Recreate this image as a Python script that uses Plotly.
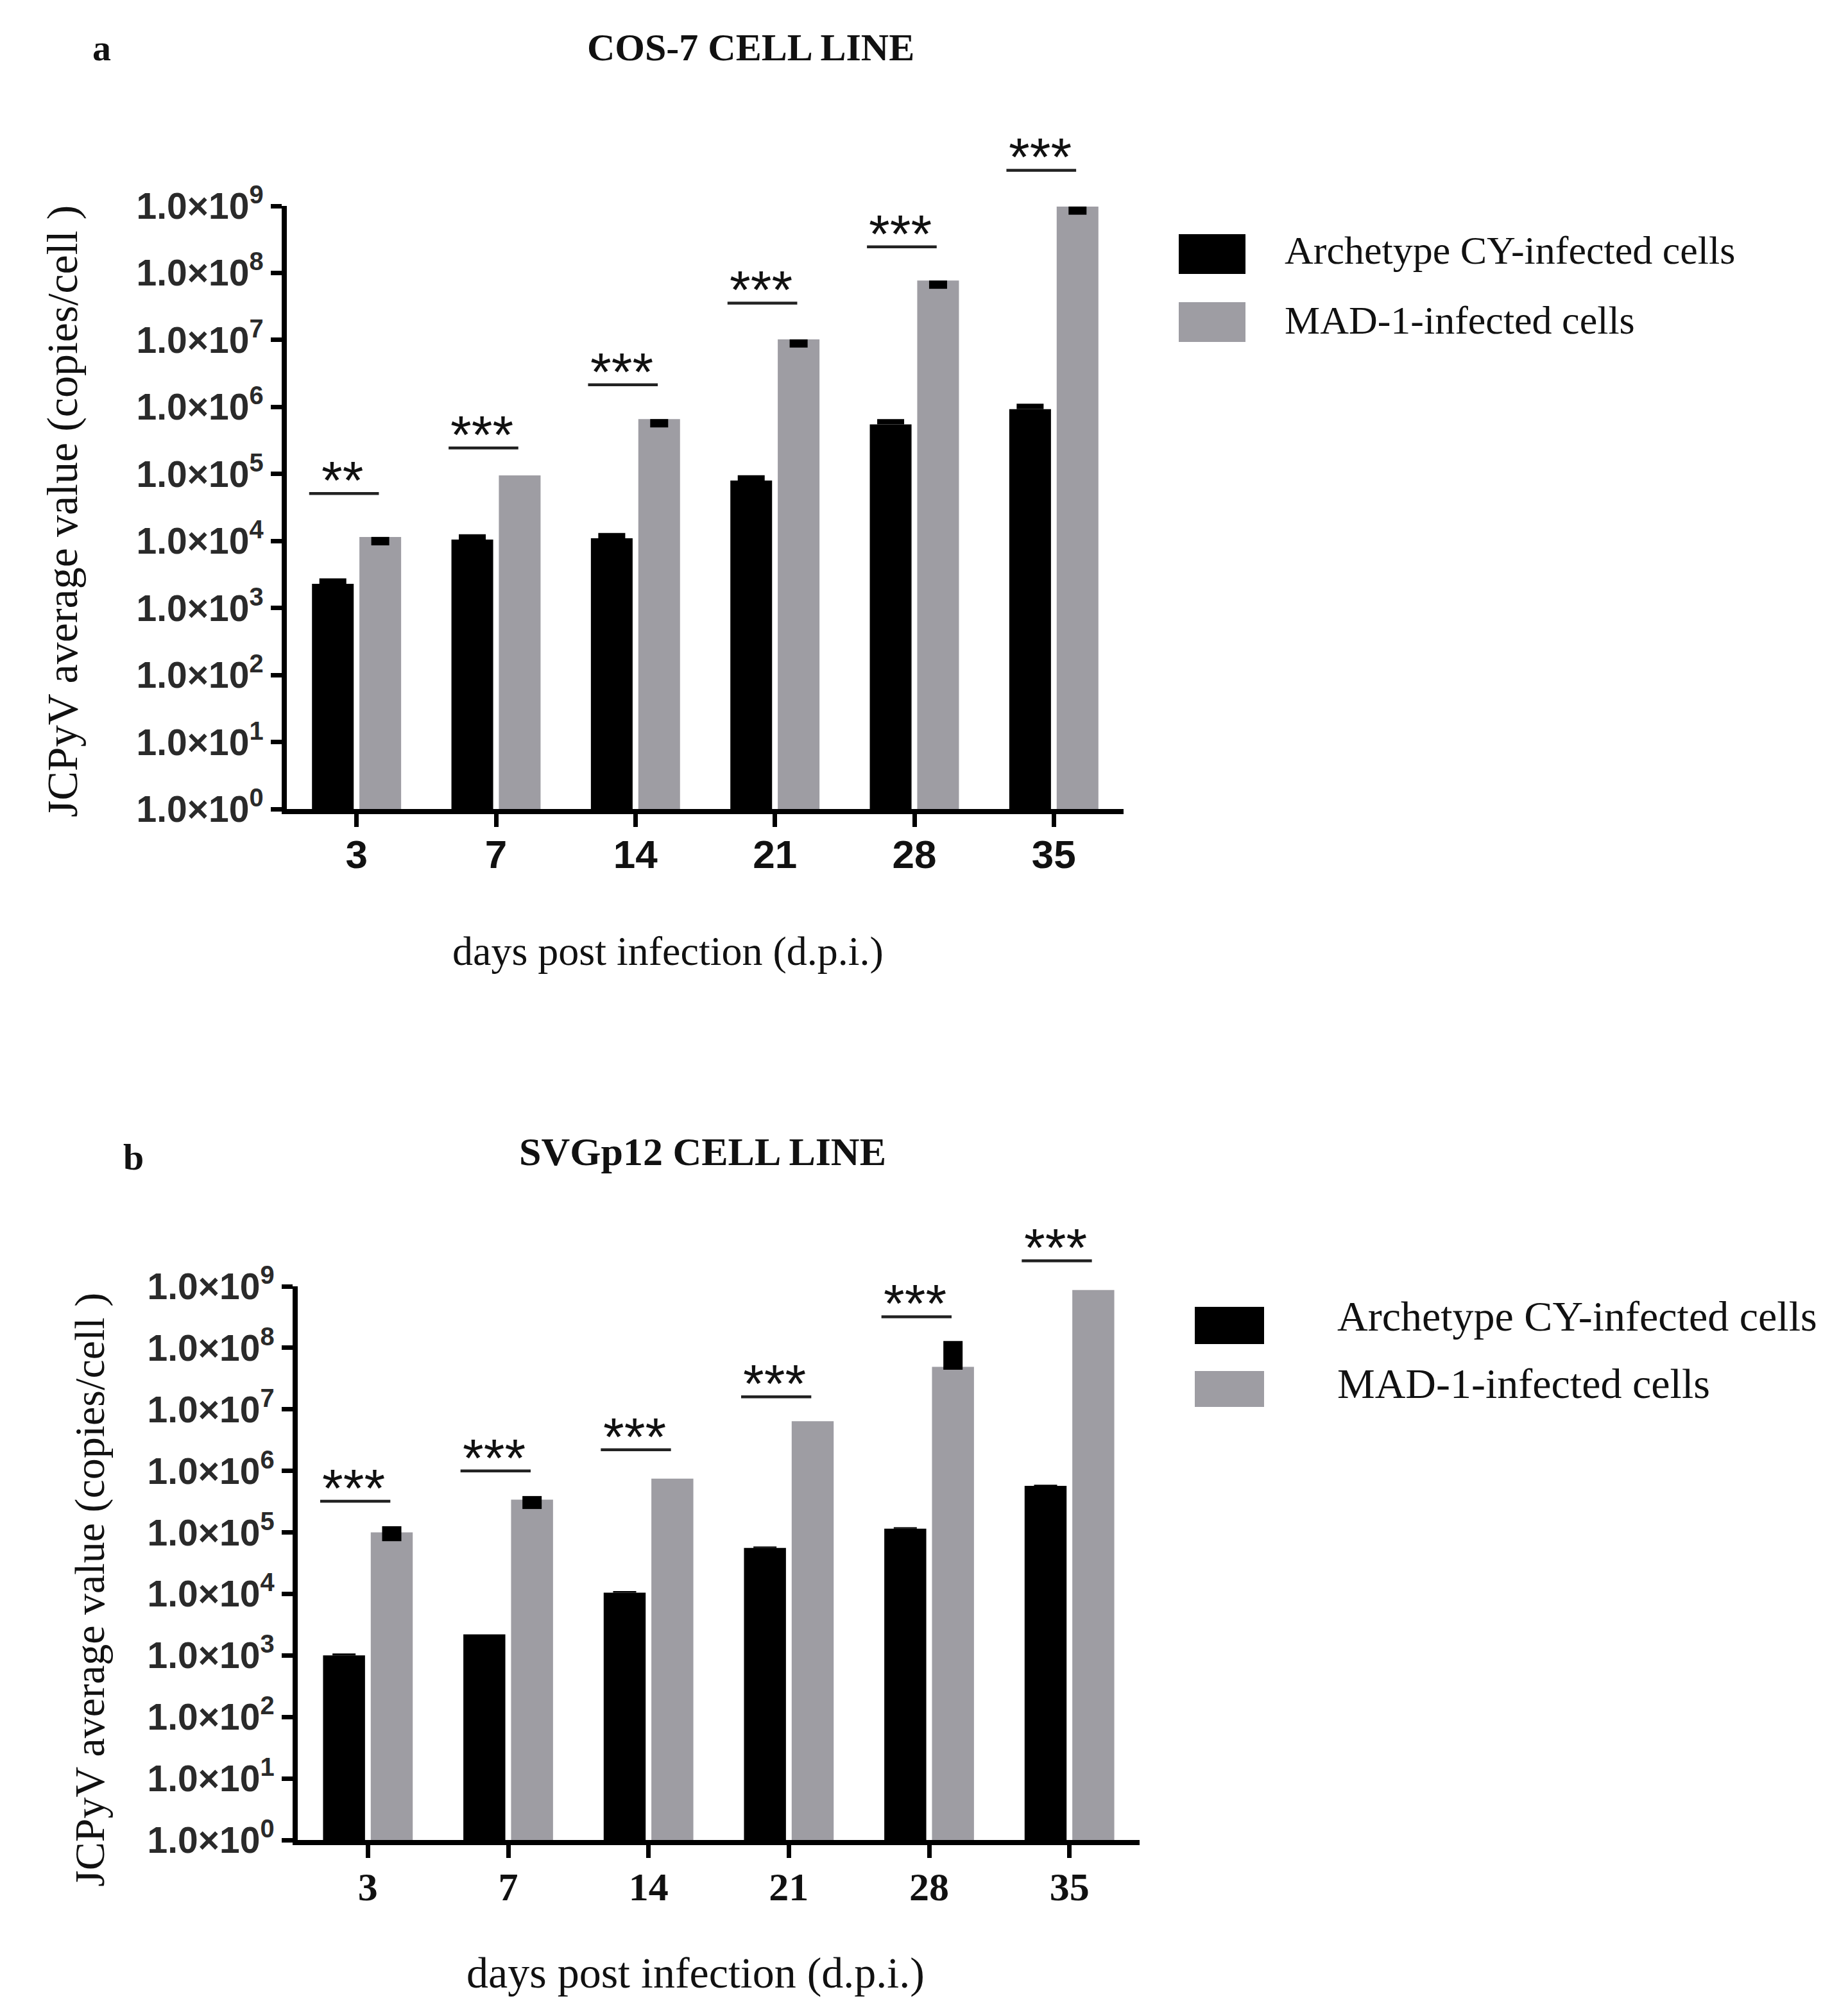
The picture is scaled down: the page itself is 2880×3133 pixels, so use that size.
import math
import plotly.graph_objects as go

# ---------------- data ----------------
days = ["3", "7", "14", "21", "28", "35"]
y_tick_vals = [1e0, 1e1, 1e2, 1e3, 1e4, 1e5, 1e6, 1e7, 1e8, 1e9]
y_tick_text = ["1.0×10<sup>%d</sup>" % k for k in range(10)]

# panel a : COS-7
arch_a = [2.3e3, 1.05e4, 1.1e4, 8.0e4, 5.5e5, 9.3e5]
arch_a_err_up = [4.6e2, 2.1e3, 2.2e3, 1.6e4, 1.1e5, 1.9e5]
mad_a = [1.15e4, 9.5e4, 6.6e5, 1.02e7, 7.7e7, 9.8e8]
mad_a_err_dn = [2.9e3, 0.0, 1.65e5, 2.5e6, 1.9e7, 2.4e8]
sig_a = ["**", "***", "***", "***", "***", "***"]
sig_level_a = [5.1e4, 2.45e5, 2.14e6, 3.55e7, 2.45e8, 3.4e9]

# panel b : SVGp12
arch_b = [1.0e3, 2.2e3, 1.05e4, 5.6e4, 1.15e5, 5.7e5]
arch_b_err_up = [8e1, 0.0, 6e2, 3e3, 6e3, 2.5e4]
mad_b = [1.0e5, 3.4e5, 7.5e5, 6.4e6, 4.9e7, 8.7e8]
mad_b_err_up = [2.6e4, 5.0e4, 0.0, 0.0, 8.0e7, 0.0]
mad_b_err_dn = [2.8e4, 1.0e5, 0.0, 0.0, 5.0e6, 0.0]
sig_b = ["***", "***", "***", "***", "***", "***"]
sig_level_b = [3.2e5, 1.0e6, 2.2e6, 1.6e7, 3.2e8, 2.6e9]

series_names = ["Archetype CY-infected cells", "MAD-1-infected cells"]

# ---------------- style ----------------
W, H = 2880, 3133
BLACK = "#000000"
GREY = "#9e9da3"
SERIF = "Liberation Serif"
SANS = "Liberation Sans"
xpos = list(range(len(days)))
zeros = [0.0] * len(days)


def px(v):
    return v / W


def py(v):
    return 1 - v / H


# panel geometry (pixels): plot-area left/right, bottom/top, and extended top for brackets
geo = {
    "a": dict(x0=439, x1=1743, yb=1253, yt=313, yext=190),
    "b": dict(x0=456, x1=1768, yb=2860, yt=1997, yext=1900),
}

fig = go.Figure()

panels = [
    dict(xa="x", ya="y", yb_ax="y3", arch=arch_a, arch_up=arch_a_err_up,
         mad=mad_a, mad_up=zeros, mad_dn=mad_a_err_dn,
         sig=sig_a, lev=sig_level_a, arch_th=42, mad_th=28),
    dict(xa="x2", ya="y2", yb_ax="y4", arch=arch_b, arch_up=arch_b_err_up,
         mad=mad_b, mad_up=mad_b_err_up, mad_dn=mad_b_err_dn,
         sig=sig_b, lev=sig_level_b, arch_th=36, mad_th=30),
]

annotations = []
for p in panels:
    fig.add_trace(go.Bar(
        x=xpos, y=p["arch"], name=series_names[0], marker=dict(color=BLACK, line=dict(width=0)),
        error_y=dict(type="data", symmetric=False, array=p["arch_up"], arrayminus=zeros,
                     color=BLACK, thickness=p["arch_th"], width=0),
        xaxis=p["xa"], yaxis=p["ya"], showlegend=False))
    fig.add_trace(go.Bar(
        x=xpos, y=p["mad"], name=series_names[1], marker=dict(color=GREY, line=dict(width=0)),
        error_y=dict(type="data", symmetric=False, array=p["mad_up"], arrayminus=p["mad_dn"],
                     color=BLACK, thickness=p["mad_th"], width=0),
        xaxis=p["xa"], yaxis=p["ya"], showlegend=False))
    # significance brackets on an invisible, extended log axis with the same scale
    bx, by = [], []
    for i, lv in zip(xpos, p["lev"]):
        bx += [i - 0.34, i + 0.16, None]
        by += [lv, lv, None]
    fig.add_trace(go.Scatter(
        x=bx, y=by, mode="lines", line=dict(color="#222222", width=4.5),
        xaxis=p["xa"], yaxis=p["yb_ax"], showlegend=False, hoverinfo="skip"))
    for i, (s, lv) in enumerate(zip(p["sig"], p["lev"])):
        annotations.append(dict(
            x=i - 0.1, y=math.log10(lv), xref=p["xa"], yref=p["yb_ax"], text=s,
            showarrow=False, xanchor="center", yanchor="middle", yshift=20,
            font=dict(family=SANS, size=84, color="#111111")))

fig.update_layout(
    barmode="group", bargap=0.32, bargroupgap=0.12,
    width=W, height=H, margin=dict(l=0, r=0, t=0, b=0),
    paper_bgcolor="white", plot_bgcolor="rgba(0,0,0,0)", showlegend=False,
)

axis_common_y = dict(
    type="log", range=[0, 9], tickvals=y_tick_vals, ticktext=y_tick_text,
    showgrid=False, zeroline=False, showline=True, linecolor=BLACK, linewidth=8,
    ticks="outside", ticklen=17, tickwidth=7, tickcolor=BLACK, automargin=False,
    tickfont=dict(family=SANS, size=57, color="#2a2a2a", weight="bold"),
)
axis_common_x = dict(
    range=[-0.5, 5.5], tickvals=xpos, ticktext=days, showgrid=False, zeroline=False,
    showline=True, linecolor=BLACK, linewidth=8, ticks="outside", ticklen=20, tickwidth=7,
    tickcolor=BLACK, automargin=False,
)

ga, gb = geo["a"], geo["b"]
ext_a = 9 * (ga["yb"] - ga["yext"]) / (ga["yb"] - ga["yt"])
ext_b = 9 * (gb["yb"] - gb["yext"]) / (gb["yb"] - gb["yt"])

fig.update_layout(
    xaxis=dict(axis_common_x, domain=[px(ga["x0"]), px(ga["x1"])], anchor="y",
               ticklabelstandoff=-10,
               tickfont=dict(family=SANS, size=62, color="#111111", weight="bold")),
    yaxis=dict(axis_common_y, domain=[py(ga["yb"]), py(ga["yt"])], anchor="x"),
    yaxis3=dict(type="log", range=[0, ext_a], domain=[py(ga["yb"]), py(ga["yext"])],
                anchor="x", visible=False, showgrid=False, zeroline=False),
    xaxis2=dict(axis_common_x, domain=[px(gb["x0"]), px(gb["x1"])], anchor="y2",
                ticklabelstandoff=-8,
                tickfont=dict(family=SERIF, size=62, color="#111111", weight="bold")),
    yaxis2=dict(axis_common_y, domain=[py(gb["yb"]), py(gb["yt"])], anchor="x2"),
    yaxis4=dict(type="log", range=[0, ext_b], domain=[py(gb["yb"]), py(gb["yext"])],
                anchor="x2", visible=False, showgrid=False, zeroline=False),
)

# titles, axis titles, panel letters
texts = [
    ("a", 150, 66, SERIF, 58, "bold", 0),
    ("COS-7 CELL LINE", 1162, 66, SERIF, 60, "bold", 0),
    ("b", 200, 1796, SERIF, 58, "bold", 0),
    ("SVGp12 CELL LINE", 1087, 1787, SERIF, 62, "bold", 0),
    ("JCPyV average value (copies/cell )", 89, 789, SERIF, 68, "normal", -90),
    ("JCPyV average value (copies/cell )", 132, 2470, SERIF, 66, "normal", -90),
    ("days post infection (d.p.i.)", 1033, 1474, SERIF, 64, "normal", 0),
    ("days post infection (d.p.i.)", 1076, 3067, SERIF, 68, "normal", 0),
]
for t, x, y, fam, size, wt, ang in texts:
    annotations.append(dict(
        x=px(x), y=py(y), xref="paper", yref="paper", text=t, showarrow=False,
        xanchor="center", yanchor="middle", textangle=ang,
        font=dict(family=fam, size=size, color="#111111", weight=wt)))

# manual legends (swatches + labels)
legend_specs = [
    # (x0, x1, y0_black, y1_black, y0_grey, y1_grey, text_x, text_y_black, text_y_grey, size)
    (1829, 1933, 357, 419, 463, 525, 1992, 382, 491, 62),
    (1854, 1962, 2029, 2087, 2129, 2185, 2074, 2043, 2148, 66),
]
shapes = []
for x0, x1, yb0, yb1, yg0, yg1, tx, tyb, tyg, fs in legend_specs:
    shapes.append(dict(type="rect", xref="paper", yref="paper", x0=px(x0), x1=px(x1),
                       y0=py(yb1), y1=py(yb0), fillcolor=BLACK, line=dict(width=0)))
    shapes.append(dict(type="rect", xref="paper", yref="paper", x0=px(x0), x1=px(x1),
                       y0=py(yg1), y1=py(yg0), fillcolor=GREY, line=dict(width=0)))
    for name, ty in zip(series_names, [tyb, tyg]):
        annotations.append(dict(
            x=px(tx), y=py(ty), xref="paper", yref="paper", text=name, showarrow=False,
            xanchor="left", yanchor="middle",
            font=dict(family=SERIF, size=fs, color="#111111")))

fig.update_layout(annotations=annotations, shapes=shapes)

fig.write_html("out.html")
